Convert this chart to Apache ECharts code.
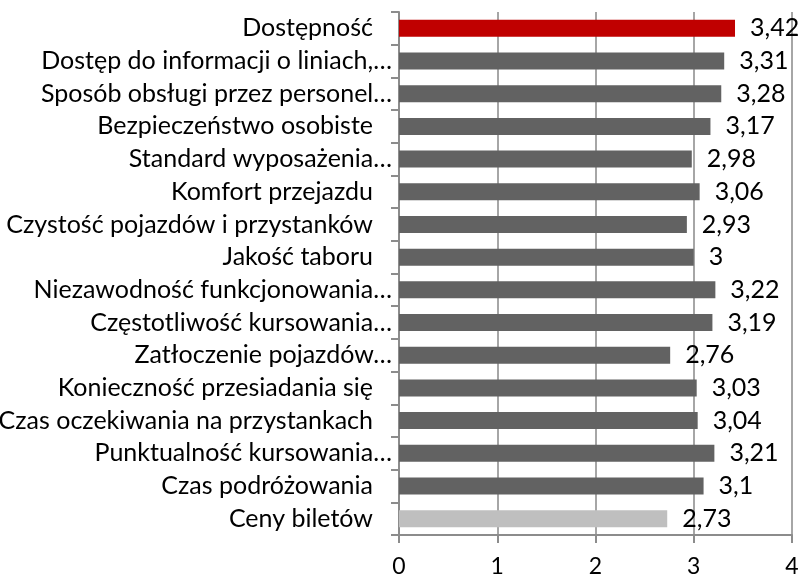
<!DOCTYPE html>
<html>
<head>
<meta charset="utf-8">
<script src="https://cdn.jsdelivr.net/npm/echarts@6/dist/echarts.min.js"></script>
<style>
  html, body { margin: 0; padding: 0; background: #fff; }
  #chart { width: 799px; height: 578px; }
</style>
</head>
<body>
<div id="chart"></div>
<script>
// Ratings by category (top to bottom)
const categories = [
  'Dostępność',
  'Dostęp do informacji o liniach,…',
  'Sposób obsługi przez personel…',
  'Bezpieczeństwo osobiste',
  'Standard wyposażenia…',
  'Komfort przejazdu',
  'Czystość pojazdów i przystanków',
  'Jakość taboru',
  'Niezawodność funkcjonowania…',
  'Częstotliwość kursowania…',
  'Zatłoczenie pojazdów…',
  'Konieczność przesiadania się',
  'Czas oczekiwania na przystankach',
  'Punktualność kursowania…',
  'Czas podróżowania',
  'Ceny biletów'
];
const values = [3.42, 3.31, 3.28, 3.17, 2.98, 3.06, 2.93, 3, 3.22, 3.19, 2.76, 3.03, 3.04, 3.21, 3.1, 2.73];
const xTicks = [0, 1, 2, 3, 4];

const RED = '#c00000', GRAY = '#626262', LIGHT = '#bfbfbf';
const FONT = 'Lato';

const chart = echarts.init(document.getElementById('chart'), null, { renderer: 'canvas' });

chart.setOption({
  animation: false,
  backgroundColor: '#ffffff',
  grid: {
    left: 399, right: 7, top: 12, bottom: 43,
    containLabel: false,
    outerBoundsMode: 'none'
  },
  xAxis: {
    type: 'value',
    min: xTicks[0],
    max: xTicks[xTicks.length - 1],
    interval: 1,
    axisLine: { show: true, lineStyle: { color: '#8c8c8c', width: 2 } },
    axisTick: { show: true, length: 8, lineStyle: { color: '#8c8c8c', width: 2 } },
    splitLine: { show: true, lineStyle: { color: '#a6a6a6', width: 2 } },
    axisLabel: {
      color: '#000', fontFamily: FONT, fontSize: 23, margin: 20,
      formatter: v => String(v)
    }
  },
  yAxis: {
    type: 'category',
    data: categories,
    inverse: true,
    axisLine: { show: true, lineStyle: { color: '#8c8c8c', width: 2 } },
    axisTick: { show: true, length: 8, alignWithLabel: false, lineStyle: { color: '#8c8c8c', width: 2 } },
    axisLabel: {
      interval: 0,
      hideOverlap: false,
      color: '#000', fontFamily: FONT, fontSize: 25, margin: 7,
      // full (untruncated) names keep a trailing gap before the axis
      formatter: v => v.endsWith('…') ? v : '{full|' + v + '}',
      rich: {
        full: { color: '#000', fontFamily: FONT, fontSize: 25, padding: [0, 19, 0, 0] }
      }
    }
  },
  series: [{
    type: 'bar',
    data: values.map((v, i) => ({
      value: v,
      itemStyle: { color: i === 0 ? RED : (i === values.length - 1 ? LIGHT : GRAY) }
    })),
    barWidth: 17,
    label: {
      show: true,
      position: 'right',
      distance: 15,
      color: '#000',
      fontFamily: FONT,
      fontSize: 25,
      formatter: p => String(p.value).replace('.', ',')
    }
  }]
});
</script>
</body>
</html>
